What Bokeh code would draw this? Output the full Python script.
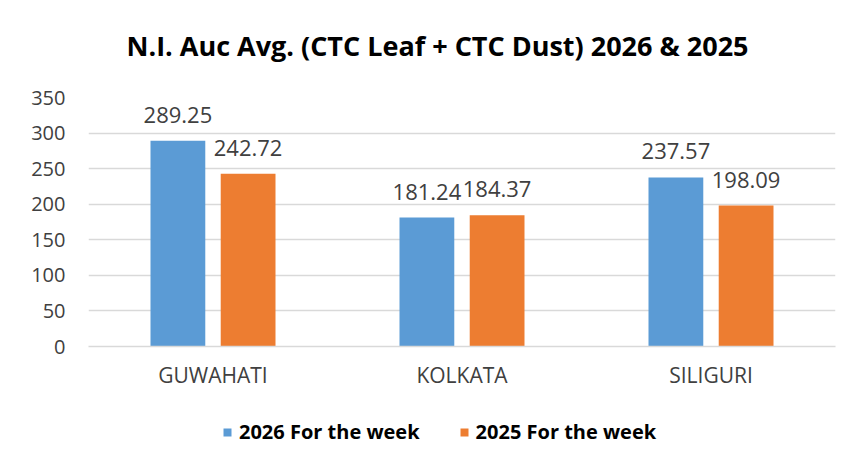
from bokeh.plotting import figure
from bokeh.layouts import column
from bokeh.models import FactorRange, Range1d, FixedTicker, Legend, LegendItem, ColumnDataSource, Label
from bokeh.transform import dodge
from bokeh.core.properties import value
from bokeh.embed import file_html
from bokeh.resources import INLINE

categories = ["GUWAHATI", "KOLKATA", "SILIGURI"]
series_names = ["2026 For the week", "2025 For the week"]
values_2026 = [289.25, 181.24, 237.57]
values_2025 = [242.72, 184.37, 198.09]
y_ticks = [0, 50, 100, 150, 200, 250, 300, 350]
title_text = "N.I. Auc Avg. (CTC Leaf + CTC Dust) 2026 & 2025"

FONT = "Open Sans"
BLUE = "#5B9BD5"
ORANGE = "#ED7D31"

src = ColumnDataSource(dict(
    cat=categories,
    v26=values_2026,
    v25=values_2025,
    l26=[f"{v:.2f}" for v in values_2026],
    l25=[f"{v:.2f}" for v in values_2025],
))


def strip(h):
    f = figure(x_range=Range1d(0, 1), y_range=Range1d(0, 1),
               frame_width=851, frame_height=h,
               output_backend="svg", toolbar_location=None,
               min_border_left=0, min_border_right=0,
               min_border_top=0, min_border_bottom=0,
               background_fill_color="white", border_fill_color="white")
    f.axis.visible = False
    f.grid.visible = False
    f.outline_line_color = None
    return f


# Title strip
p0 = strip(80)
p0.add_layout(Label(x=349, y=35, x_units="screen", y_units="screen",
                    text=title_text, text_align="center", text_baseline="alphabetic",
                    text_font=FONT, text_font_size="27px", text_font_style="bold",
                    text_color="#000000"))

# Main chart
p = figure(x_range=FactorRange(*categories, range_padding=0),
           y_range=Range1d(0, 350),
           frame_width=747, frame_height=249,
           output_backend="svg", toolbar_location=None,
           min_border_left=88, min_border_right=16,
           min_border_top=17, min_border_bottom=60,
           background_fill_color="white", border_fill_color="white")
p.outline_line_color = None

p.vbar(x=dodge("cat", -0.141, range=p.x_range), top="v26", width=0.22,
       source=src, fill_color=BLUE, line_color=None)
p.vbar(x=dodge("cat", 0.141, range=p.x_range), top="v25", width=0.22,
       source=src, fill_color=ORANGE, line_color=None)

for col, off in (("l26", -0.141), ("l25", 0.141)):
    top = "v26" if col == "l26" else "v25"
    p.text(x=dodge("cat", off, range=p.x_range), y=top, text=col, source=src,
           text_align="center", text_baseline="alphabetic", y_offset=-26,
           text_font=value(FONT), text_font_size="22px", text_color="#404040")

p.yaxis.ticker = FixedTicker(ticks=y_ticks)
p.yaxis.axis_line_color = None
p.yaxis.major_tick_line_color = None
p.yaxis.minor_tick_line_color = None
p.yaxis.major_label_standoff = 17
p.yaxis.major_label_text_font = FONT
p.yaxis.major_label_text_font_size = "20px"
p.yaxis.major_label_text_color = "#404040"

p.xaxis.axis_line_color = "#D9D9D9"
p.xaxis.axis_line_width = 1.5
p.xaxis.major_tick_line_color = None
p.xaxis.minor_tick_line_color = None
p.xaxis.major_label_standoff = 8
p.xaxis.major_label_text_font = FONT
p.xaxis.major_label_text_font_size = "21px"
p.xaxis.major_label_text_color = "#404040"

p.xgrid.grid_line_color = None
p.ygrid.grid_line_color = "#D9D9D9"
p.ygrid.grid_line_width = 1.5

# Legend strip (same bars, kept below the visible range so only the legend shows)
p2 = figure(x_range=FactorRange(*categories, range_padding=0), y_range=Range1d(1000, 1001),
            frame_width=851, frame_height=60,
            output_backend="svg", toolbar_location=None,
            min_border_left=0, min_border_right=0,
            min_border_top=0, min_border_bottom=0,
            background_fill_color="white", border_fill_color="white")
p2.axis.visible = False
p2.grid.visible = False
p2.outline_line_color = None
lr1 = p2.vbar(x=dodge("cat", -0.141, range=p2.x_range), top="v26", width=0.22,
              source=src, fill_color=BLUE, line_color=None)
lr2 = p2.vbar(x=dodge("cat", 0.141, range=p2.x_range), top="v25", width=0.22,
              source=src, fill_color=ORANGE, line_color=None)

legend = Legend(items=[LegendItem(label=series_names[0], renderers=[lr1]),
                       LegendItem(label=series_names[1], renderers=[lr2])],
                orientation="horizontal", location=(222, 21),
                label_text_font=FONT, label_text_font_size="20px",
                label_text_font_style="bold", label_text_color="#000000",
                glyph_width=10, glyph_height=10, label_standoff=7, spacing=39,
                border_line_color=None, background_fill_alpha=0, margin=0, padding=0)
p2.add_layout(legend, "center")

layout = column(p0, p, p2, spacing=0)
open("out.html", "w").write(file_html(layout, INLINE))
